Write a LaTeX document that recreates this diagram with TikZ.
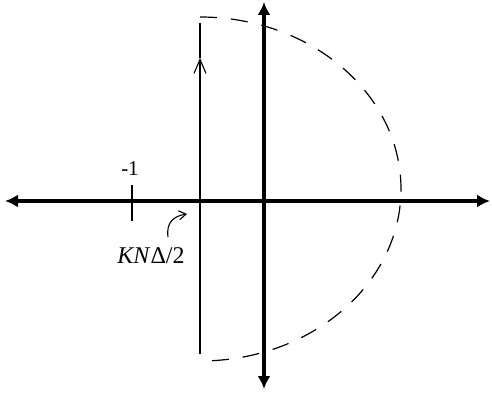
\documentclass[tikz,border=0pt]{standalone}
\usepackage{fontspec}
\setmainfont{Liberation Serif}
\usetikzlibrary{arrows.meta}
\tikzset{
  axis/.style={line width=3.6pt, {Latex[length=13pt,width=13pt]}-{Latex[length=13pt,width=13pt]}},
  thin/.style={line width=1.1pt},
  arc/.style={line width=1.2pt, dash pattern=on 17pt off 14pt},
  lbl/.style={inner sep=0pt, font=\fontsize{23}{26}\selectfont}
}
\begin{document}
\begin{tikzpicture}[x=1pt,y=-1pt]
\useasboundingbox (0,0) rectangle (492,395);
% axes
\coordinate (L) at (5,201);
\coordinate (R) at (490,201);
\coordinate (T) at (264,2);
\coordinate (B) at (264,389);
\draw[axis] (L) -- (R);
\draw[axis] (B) -- (T);
% dashed contour
\coordinate (ctop) at (200,17);
\draw[arc] (ctop) arc[start angle=90, end angle=-90, x radius=201, y radius=-172];
% vertical contour line with arrow
\coordinate (vb) at (200,354);
\coordinate (vm) at (200,58);
\coordinate (vt) at (200,23);
\draw[thin, -{Straight Barb[length=14pt,width=12pt]}] (vb) -- (vm);
\draw[thin] (vm) -- (vt);
% tick at -1
\coordinate (t1) at (132,185);
\coordinate (t2) at (132,221);
\draw[thin] (t1) -- (t2);
\node[lbl, anchor=base, font=\fontsize{21}{24}\selectfont] (m1) at (130,176) {-1};
% KN Delta / 2 label
\node[lbl, anchor=base, font=\fontsize{24}{27}\selectfont] (k) at (151,263) {\textit{KN}Δ/2};
\coordinate (ca) at (168,237);
\coordinate (cb) at (187,214);
\draw[thin, -{Straight Barb[length=7pt,width=9pt]}] (ca) .. controls (166,222) and (174,216) .. (cb);
\end{tikzpicture}
\end{document}
